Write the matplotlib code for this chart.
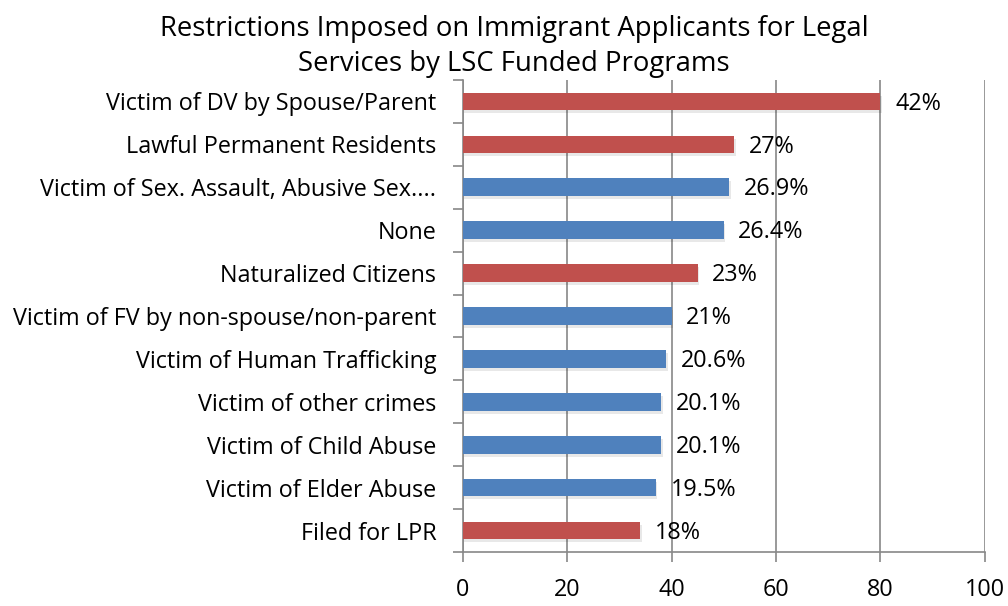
import matplotlib
matplotlib.use("Agg")
import matplotlib.pyplot as plt
import numpy as np

categories = [
    "Victim of DV by Spouse/Parent",
    "Lawful Permanent Residents",
    "Victim of Sex. Assault, Abusive Sex....",
    "None",
    "Naturalized Citizens",
    "Victim of FV by non-spouse/non-parent",
    "Victim of Human Trafficking",
    "Victim of other crimes",
    "Victim of Child Abuse",
    "Victim of Elder Abuse",
    "Filed for LPR",
]
values = [80, 52, 51, 50, 45, 40, 39, 38, 38, 37, 34]
labels = ["42%", "27%", "26.9%", "26.4%", "23%", "21%", "20.6%", "20.1%", "20.1%", "19.5%", "18%"]
groups = ["red", "red", "blue", "blue", "red", "blue", "blue", "blue", "blue", "blue", "red"]
xticks = [0, 20, 40, 60, 80, 100]

palette = {"red": "#C0504D", "blue": "#4F81BD"}

plt.rcParams['font.family'] = ['Open Sans', 'DejaVu Sans']
FS = 16.8

fig = plt.figure(figsize=(10.08, 6.06), dpi=100)
ax = fig.add_axes([0.459, 0.089, 0.518, 0.779])

n = len(categories)
y = np.arange(n)[::-1]
h = 0.41
colors = [palette[g] for g in groups]

# subtle shadow
ax.barh(y - 0.07, values, height=h, left=0.3, color="#000000", alpha=0.09, zorder=2)
ax.barh(y, values, height=h, color=colors, zorder=3)

for yi, v, lab in zip(y, values, labels):
    ax.text(v + 2.8, yi - 0.05, lab, va="center", ha="left", fontsize=FS, color="black", zorder=4)

ax.set_xlim(0, 100)
ax.set_ylim(-0.5, n - 0.5)
ax.set_xticks(xticks)
ax.set_xticklabels([str(t) for t in xticks], fontsize=FS)
ax.set_yticks(y)
ax.set_yticklabels(categories, fontsize=FS)
ax.tick_params(axis="y", length=0, pad=19)
ax.set_yticks(np.arange(-0.5, n, 1.0), minor=True)
ax.tick_params(axis="y", which="minor", length=7, color="#888888", width=1.2)
ax.tick_params(axis="x", length=7, color="#888888", width=1.2, pad=12)

ax.xaxis.grid(True, color="#888888", linewidth=1.2, zorder=0)
ax.set_axisbelow(True)
for s in ["top", "right"]:
    ax.spines[s].set_visible(False)
for s in ["left", "bottom"]:
    ax.spines[s].set_color("#888888")
    ax.spines[s].set_linewidth(1.2)

fig.text(0.51, 0.952, "Restrictions Imposed on Immigrant Applicants for Legal", ha="center", va="center", fontsize=19.8)
fig.text(0.51, 0.894, "Services by LSC Funded Programs", ha="center", va="center", fontsize=19.8)

fig.savefig("out.png", dpi=100)
